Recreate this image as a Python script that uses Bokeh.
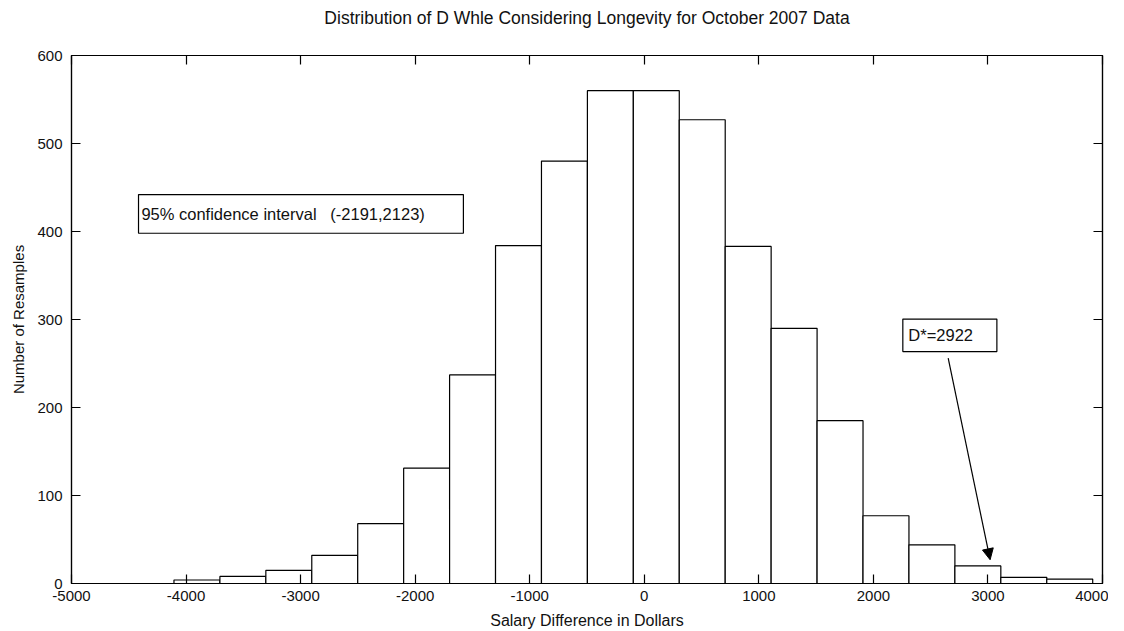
from bokeh.plotting import figure
from bokeh.models import (FixedTicker, LinearAxis, Range1d, Arrow, NormalHead,
                          ColumnDataSource, CustomJSTickFormatter)
from bokeh.core.properties import value
from bokeh.embed import file_html
from bokeh.resources import INLINE

# ---- data ----
bin_centers = [-3905, -3504, -3103, -2702, -2301, -1900, -1499, -1098, -697, -296,
               105, 506, 907, 1308, 1709, 2110, 2511, 2912, 3313, 3714]
counts = [4, 8, 15, 32, 68, 131, 237, 384, 480, 560,
          560, 527, 383, 290, 185, 77, 44, 20, 7, 5]
bin_width = 401
x_ticks = [-5000, -4000, -3000, -2000, -1000, 0, 1000, 2000, 3000, 4000]
y_ticks = [0, 100, 200, 300, 400, 500, 600]

title_text = "Distribution of D Whle Considering Longevity for October 2007 Data"
x_label = "Salary Difference in Dollars"
y_label = "Number of Resamples"
ci_text = "95% confidence interval\u00a0\u00a0\u00a0(-2191,2123)"
dstar_text = "D*=2922"

FONT = "Liberation Sans"
INK = "#111111"

p = figure(width=1108, height=631, output_backend="svg", toolbar_location=None,
           x_range=Range1d(-5000, 4000), y_range=Range1d(0, 600),
           min_border_left=71, min_border_right=6, min_border_top=55,
           min_border_bottom=47)
p.grid.visible = False
p.outline_line_color = "black"
p.outline_line_width = 1.2
p.background_fill_color = "white"
p.border_fill_color = "white"

def style_axis(ax, ticks, show_labels=True):
    ax.ticker = FixedTicker(ticks=ticks)
    ax.major_tick_in = 9
    ax.major_tick_out = 0
    ax.minor_tick_line_color = None
    ax.axis_line_color = "black"
    ax.axis_line_width = 1.2
    ax.major_tick_line_color = "black"
    ax.major_tick_line_width = 1.2
    ax.major_label_text_font = FONT
    ax.major_label_text_font_size = "15px"
    ax.major_label_text_color = INK
    ax.axis_label_text_font = FONT
    ax.axis_label_text_font_style = "normal"
    ax.axis_label_text_color = INK
    if show_labels:
        ax.major_label_overrides = {t: str(t) for t in ticks}
    else:
        ax.formatter = CustomJSTickFormatter(code="return ''")
        ax.major_label_standoff = 0

xa = p.xaxis[0]
ya = p.yaxis[0]
style_axis(xa, x_ticks)
style_axis(ya, y_ticks)
xa.major_label_standoff = 7
ya.major_label_standoff = 9
xa.axis_label = x_label
ya.axis_label = y_label
xa.axis_label_text_font_size = "16px"
ya.axis_label_text_font_size = "15px"
xa.axis_label_standoff = 8
ya.axis_label_standoff = 7

# top axis: ticks only, carries the chart title as its label
top_ax = LinearAxis()
style_axis(top_ax, x_ticks, False)
top_ax.axis_label = title_text
top_ax.axis_label_text_font_size = "17.5px"
top_ax.axis_label_standoff = 28
p.add_layout(top_ax, "above")

right_ax = LinearAxis()
style_axis(right_ax, y_ticks, False)
p.add_layout(right_ax, "right")

src = ColumnDataSource(dict(
    left=[c - bin_width / 2 for c in bin_centers],
    right=[c + bin_width / 2 for c in bin_centers],
    top=counts,
    bottom=[0] * len(counts),
))
p.quad(left="left", right="right", top="top", bottom="bottom", source=src,
       fill_color="white", line_color="black", line_width=1.2)

# annotation boxes
p.quad(left=[-4415, 2257], right=[-1579, 3078], bottom=[398, 263.5], top=[442, 300.5],
       fill_color="white", line_color="black", line_width=1.2)
p.text(x=[-4390, 2305], y=[420, 282], text=[ci_text, dstar_text],
       text_font=value(FONT), text_font_size="16.5px", text_align="left",
       text_baseline="middle", text_color=INK)

p.add_layout(Arrow(x_start=2653, y_start=256, x_end=3019, y_end=27,
                   line_color="black", line_width=1.2,
                   end=NormalHead(size=11, fill_color="black", line_color="black")))

open("out.html", "w").write(file_html(p, INLINE))
